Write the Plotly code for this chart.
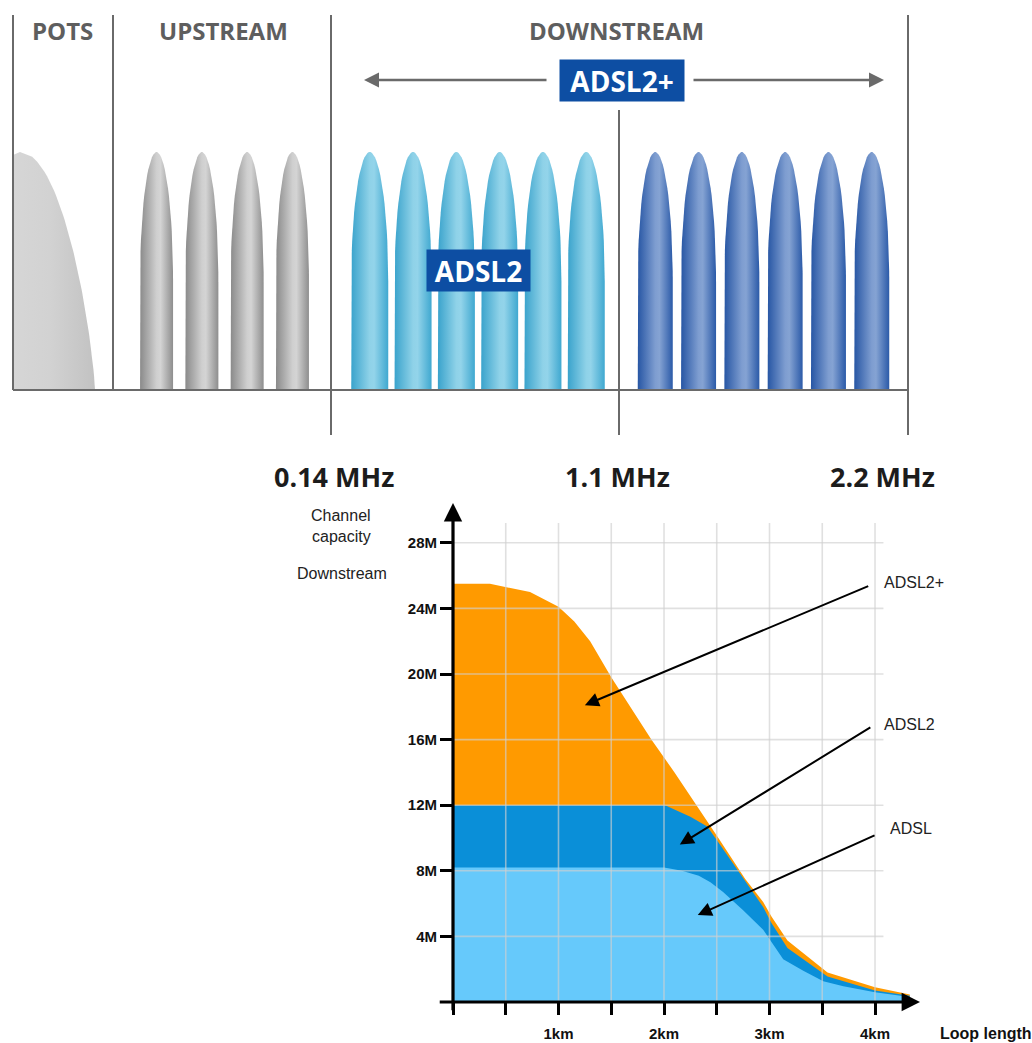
import numpy as np
import plotly.graph_objects as go

# ---------------- data: downstream capacity vs loop length ----------------
adsl2plus_km = [0, 0.35, 0.73, 1.0, 1.15, 1.3, 1.5, 1.88, 2.1, 2.31, 2.41, 2.52, 2.77, 2.94, 3.02, 3.17, 3.55, 4.0, 4.33]
adsl2plus_mbit = [25.5, 25.5, 25.0, 24.1, 23.2, 22.0, 19.8, 16.0, 14.0, 12.0, 11.0, 9.95, 7.5, 6.1, 5.2, 3.75, 1.8, 0.9, 0.45]

adsl2_km = [0, 2.01, 2.25, 2.41, 2.52, 2.75, 2.94, 3.02, 3.17, 3.55, 4.0, 4.33]
adsl2_mbit = [12.0, 12.0, 11.3, 10.7, 9.7, 7.6, 5.8, 4.8, 3.3, 1.55, 0.7, 0.38]

adsl_km = [0, 2.0, 2.17, 2.33, 2.44, 2.56, 2.75, 2.94, 3.13, 3.32, 3.51, 3.7, 4.0, 4.33]
adsl_mbit = [8.2, 8.2, 8.0, 7.7, 7.3, 6.7, 5.6, 4.4, 2.6, 1.9, 1.26, 0.96, 0.6, 0.3]

series_names = ["ADSL2+", "ADSL2", "ADSL"]
y_tick_values = [4, 8, 12, 16, 20, 24, 28]
y_tick_labels = ["4M", "8M", "12M", "16M", "20M", "24M", "28M"]
x_tick_values = [0, 0.5, 1, 1.5, 2, 2.5, 3, 3.5, 4]
x_tick_labels = ["", "", "1km", "", "2km", "", "3km", "", "4km"]

# ---------------- data: spectrum diagram ----------------
band_labels = ["POTS", "UPSTREAM", "DOWNSTREAM"]
freq_labels = ["0.14 MHz", "1.1 MHz", "2.2 MHz"]
tone_groups = ["UPSTREAM", "ADSL2", "ADSL2+"]
tones_per_group = [4, 6, 6]

# ---------------- layout constants ----------------
W, H = 1032, 1043
FONT = "Liberation Sans, Arial, sans-serif"
TOPFONT = "Open Sans, sans-serif"

fig = go.Figure()

# ======== spectrum diagram (schematic axis x2/y2 spanning the page) ========
edges = [13, 113, 331, 619, 908]          # band boundaries on schematic axis
base_y, top_y, line_top = 390, 152, 15
group_span = [(edges[1], edges[2]), (edges[2], edges[3]), (edges[3], edges[4])]
group_spacing = [45.3, 43.3, 43.3]
group_shift = [2.5, 3.0, 0.0]
group_hw = [16.5, 18.5, 17.5]
group_scales = [
    [[0, "#8a8a8a"], [0.5, "#cfcfcf"], [0.62, "#d4d4d4"], [1, "#8e8e8e"]],
    [[0, "#3aa3cc"], [0.5, "#8fd2e8"], [0.62, "#93d4ea"], [1, "#3fa8d0"]],
    [[0, "#2756a4"], [0.5, "#7e9dd0"], [0.62, "#85a3d3"], [1, "#2b5aa8"]],
]


def lobe_path(cx, hw, arch=130, n=40):
    t = np.linspace(0, np.pi, n)
    xs_top = cx - hw * np.cos(t)
    ys_top = top_y + arch * (1 - np.sin(t))
    xs = np.concatenate([[cx - hw], xs_top, [cx + hw]])
    ys = np.concatenate([[base_y], ys_top, [base_y]])
    return xs, ys


for g, (name, n) in enumerate(zip(tone_groups, tones_per_group)):
    lo, hi = group_span[g]
    mid = (lo + hi) / 2 + group_shift[g]
    for i in range(n):
        cx = mid + (i - (n - 1) / 2) * group_spacing[g]
        xs, ys = lobe_path(cx, group_hw[g])
        fig.add_trace(go.Scatter(
            x=xs, y=ys, xaxis="x2", yaxis="y2", mode="lines", fill="toself",
            line=dict(width=0, color="rgba(0,0,0,0)"),
            fillgradient=dict(type="horizontal", colorscale=group_scales[g]),
            hoverinfo="skip", showlegend=False))

# POTS lobe
f = np.linspace(0, 1, 50)
px = 20 + 75 * np.sqrt(np.clip(1 - f ** 1.3, 0, 1))
py = base_y - (base_y - top_y) * f
pots_x = np.concatenate([[edges[0], edges[0]], px[::-1], [20 + 75]])
pots_y = np.concatenate([[base_y, top_y + 3], py[::-1], [base_y]])
fig.add_trace(go.Scatter(
    x=pots_x, y=pots_y, xaxis="x2", yaxis="y2", mode="lines", fill="toself",
    line=dict(width=0, color="rgba(0,0,0,0)"),
    fillgradient=dict(type="horizontal", colorscale=[[0, "#d6d6d6"], [0.45, "#d2d2d2"], [1, "#c2c2c2"]]),
    hoverinfo="skip", showlegend=False))

LINE = dict(color="#6a6a6a", width=2)
shapes = []
# band separator lines
for xv, y0, y1 in [(edges[0], line_top, base_y), (edges[1], line_top, base_y),
                   (edges[2], line_top, 435), (edges[3], 110, 435), (edges[4], line_top, 435)]:
    shapes.append(dict(type="line", xref="x2", yref="y2", x0=xv, x1=xv, y0=y0, y1=y1, line=LINE, layer="above"))
shapes.append(dict(type="line", xref="x2", yref="y2", x0=edges[0], x1=edges[4], y0=base_y, y1=base_y, line=LINE, layer="above"))

annotations = []
band_centers = [62, 223, 616]
for lab, cx in zip(band_labels, band_centers):
    annotations.append(dict(x=cx, y=30, xref="x2", yref="y2", text=lab, showarrow=False,
                            xanchor="center", yanchor="middle",
                            font=dict(family=TOPFONT, size=24, color="#5e5e5e", weight="bold")))
for lab, cx in zip(freq_labels, [334, 617, 882]):
    annotations.append(dict(x=cx, y=476, xref="x2", yref="y2", text=lab, showarrow=False,
                            xanchor="center", yanchor="middle",
                            font=dict(family=TOPFONT, size=27, color="#1c1c1c", weight="bold")))

# ADSL2+ span arrows
for tip, tail in [(364, 548), (884, 692)]:
    annotations.append(dict(x=tip, y=80, ax=tail, ay=80, xref="x2", yref="y2", axref="x2", ayref="y2",
                            text="", showarrow=True, arrowhead=2, arrowsize=1.2, arrowwidth=2.5,
                            arrowcolor="#6a6a6a"))
annotations.append(dict(x=622, y=80, xref="x2", yref="y2", text="ADSL2+", showarrow=False,
                        bgcolor="#0d4ea3", width=124, height=41, borderpad=0,
                        font=dict(family=TOPFONT, size=28, color="white", weight="bold")))
annotations.append(dict(x=478.5, y=270, xref="x2", yref="y2", text="ADSL2", showarrow=False,
                        bgcolor="#0d4ea3", width=103, height=41, borderpad=0,
                        font=dict(family=TOPFONT, size=28, color="white", weight="bold")))

# ======== capacity chart (x/y) ========
fills = [(adsl2plus_km, adsl2plus_mbit, "#ff9a00"),
         (adsl2_km, adsl2_mbit, "#0a8fd8"),
         (adsl_km, adsl_mbit, "#66c9fb")]
for (xk, yv, col), nm in zip(fills, series_names):
    fig.add_trace(go.Scatter(x=xk, y=yv, name=nm, mode="lines", fill="tozeroy",
                             fillcolor=col, line=dict(width=0, color=col),
                             hoverinfo="skip", showlegend=False))

GRID = dict(color="rgba(208,208,208,0.65)", width=1.6)
for v in y_tick_values:
    shapes.append(dict(type="line", xref="x", yref="y", x0=0, x1=4.08, y0=v, y1=v, line=GRID, layer="above"))
for v in x_tick_values[1:]:
    shapes.append(dict(type="line", xref="x", yref="y", x0=v, x1=v, y0=0, y1=29.2, line=GRID, layer="above"))

XMAX = (920 - 453) / 105.5
YMAX = (1002 - 503) / 16.4
# axis lines with arrow heads
annotations.append(dict(x=0, y=YMAX, ax=0, ay=-0.6, xref="x", yref="y", axref="x", ayref="y",
                        text="", showarrow=True, arrowhead=2, arrowsize=1.15, arrowwidth=3.2, arrowcolor="black"))
annotations.append(dict(x=XMAX, y=0, ax=-0.14, ay=0, xref="x", yref="y", axref="x", ayref="y",
                        text="", showarrow=True, arrowhead=2, arrowsize=1.15, arrowwidth=3.2, arrowcolor="black"))

# series pointer arrows
pointers = [("ADSL2+", (3.95, 25.4), (1.25, 18.1), (4.07, 25.6)),
            ("ADSL2", (3.97, 16.8), (2.15, 9.6), (4.07, 16.9)),
            ("ADSL", (4.01, 10.2), (2.32, 5.3), (4.12, 10.6))]
for lab, tail, head, tpos in pointers:
    annotations.append(dict(x=head[0], y=head[1], ax=tail[0], ay=tail[1], xref="x", yref="y",
                            axref="x", ayref="y", text="", showarrow=True, arrowhead=2,
                            arrowsize=1.4, arrowwidth=2, arrowcolor="black"))
    annotations.append(dict(x=tpos[0], y=tpos[1], xref="x", yref="y", text=lab, showarrow=False,
                            xanchor="left", yanchor="middle",
                            font=dict(family=FONT, size=16, color="#222222")))

for txt, cx, cy in [("Channel", 341, 516), ("capacity", 341, 536), ("Downstream", 342, 573)]:
    annotations.append(dict(x=cx / W, y=1 - cy / H, xref="paper", yref="paper", text=txt, showarrow=False,
                            xanchor="center", yanchor="middle",
                            font=dict(family=FONT, size=16, color="#222222")))
annotations.append(dict(x=938 / W, y=1 - 1033 / H, xref="paper", yref="paper", text="Loop length",
                        showarrow=False, xanchor="left", yanchor="middle",
                        font=dict(family=FONT, size=16, color="#111111", weight="bold")))

fig.update_layout(
    width=W, height=H, autosize=False,
    margin=dict(l=0, r=0, t=0, b=0),
    paper_bgcolor="white", plot_bgcolor="rgba(0,0,0,0)",
    showlegend=False,
    shapes=shapes, annotations=annotations,
    xaxis=dict(domain=[453 / W, 920 / W], range=[0, XMAX], showgrid=False, zeroline=False,
               showline=False, tickmode="array", tickvals=x_tick_values, ticktext=x_tick_labels,
               ticks="outside", ticklen=12, tickwidth=3, tickcolor="black", ticklabelstandoff=6,
               tickfont=dict(family=FONT, size=15, color="#111111", weight="bold"), fixedrange=True),
    yaxis=dict(domain=[1 - 1002 / H, 1 - 503 / H], range=[0, YMAX], showgrid=False, zeroline=False,
               showline=False, tickmode="array", tickvals=y_tick_values, ticktext=y_tick_labels,
               ticks="outside", ticklen=12, tickwidth=3, tickcolor="black",
               tickfont=dict(family=FONT, size=15, color="#111111", weight="bold"), fixedrange=True),
    xaxis2=dict(domain=[0, 1], range=[0, W], visible=False, anchor="y2", fixedrange=True),
    yaxis2=dict(domain=[0, 1], range=[H, 0], visible=False, anchor="x2", fixedrange=True),
)

fig.write_html("out.html", config={"displayModeBar": False},
               post_script="document.body.style.margin='0';")
